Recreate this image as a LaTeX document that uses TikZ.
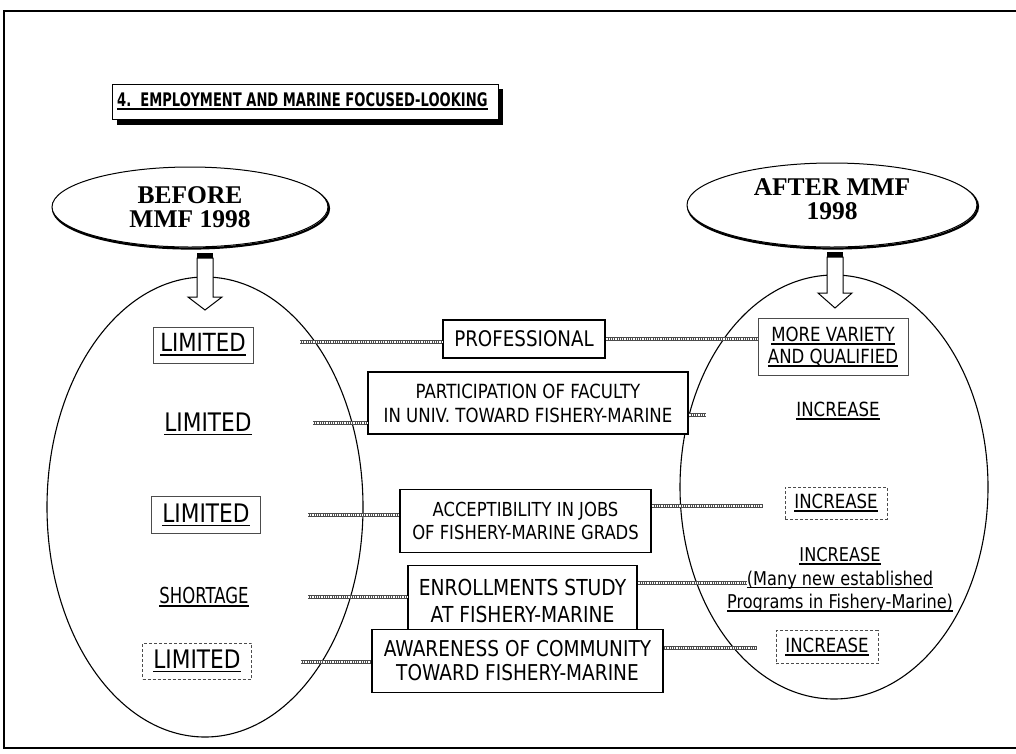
\documentclass[tikz,border=0pt]{standalone}
\usepackage{fontspec}
\setmainfont{DejaVu Sans}[FakeStretch=0.85]
\newfontfamily\narrowsans{DejaVu Sans}[FakeStretch=0.75]
\newfontfamily\headfont{DejaVu Sans Bold}[FakeStretch=0.7]
\newfontfamily\ovalfont{Liberation Serif}
\usetikzlibrary{shapes.geometric}

% underline with a rule a little heavier than \underline
\newcommand{\uln}[1]{\leavevmode\setbox0=\hbox{#1}\rlap{\copy0}\rule[-0.17em]{\wd0}{0.075em}}

\tikzset{
  frame/.style={line width=2.6pt},
  midbox/.style={draw, line width=1.1pt, fill=white, inner sep=0pt, align=center},
  tagbox/.style={draw=black!70, line width=0.7pt, inner sep=0pt, align=center},
  tag/.style={inner sep=0pt, align=center},
  oval/.style={ellipse, draw, line width=1pt, fill=white, inner sep=0pt},
  ovaltext/.style={inner sep=0pt, align=center, font=\ovalfont\bfseries\fontsize{25.5}{24.5}\selectfont},
  bigoval/.style={ellipse, draw, line width=1.1pt, inner sep=0pt},
  rail/.style={draw=black!70, line width=3.4pt,
    postaction={draw=white, line width=1.1pt, dash pattern=on 0.9pt off 0.9pt}},
  blockarrow/.style={draw, line width=1pt, fill=white},
}

\begin{document}
\begin{tikzpicture}[x=1pt, y=-1pt]
\useasboundingbox (0,0) rectangle (1016,753);
\fill[white] (0,0) rectangle (1016,753);

% outer frame
\draw[frame] (4,11) rectangle (1020,748);

% heading with drop shadow
\fill[black] (117,89) rectangle (503,125);
\node[draw, line width=0.8pt, fill=white, minimum width=386pt, minimum height=35pt,
      inner sep=0pt, anchor=north west] (head) at (112,84) {};
\node[tag, font=\headfont\fontsize{18.7}{21}\selectfont, anchor=west]
  (headtext) at (117,101) {\uln{4.\ \ EMPLOYMENT AND MARINE FOCUSED-LOOKING}};

% large ovals holding the two columns
\node[bigoval, minimum width=316pt, minimum height=460pt] (leftoval) at (205,507) {};
\node[bigoval, minimum width=308pt, minimum height=424pt] (rightoval) at (834,487) {};

% period labels, each with a heavier lower-right rim
\draw[line width=2.2pt] (191,208.5) ellipse [x radius=138, y radius=40];
\node[oval, minimum width=276pt, minimum height=80pt] (before) at (190,207) {};
\node[ovaltext] (beforetext) at (before.center) {BEFORE\\MMF 1998};
\draw[line width=2.2pt] (833,206.5) ellipse [x radius=145, y radius=42];
\node[oval, minimum width=290pt, minimum height=84pt] (after) at (832,205) {};
\node[ovaltext] (aftertext) at (832,199) {AFTER MMF\\1998};

% hollow arrows from the labels into the ovals
\draw[blockarrow] (197,258) -- (197,297) -- (188,297) -- (205,310) -- (222,297)
  -- (213,297) -- (213,258) -- cycle;
\fill (197,253) rectangle (213,257.5);
\draw[blockarrow] (827,257) -- (827,293) -- (818,293) -- (835,308) -- (852,293)
  -- (843,293) -- (843,257) -- cycle;
\fill (827,252) rectangle (843,256.5);

% left column
\node[tagbox, minimum width=100pt, minimum height=36pt,
      font=\fontsize{25}{28}\selectfont] (l1) at (203,345) {\uln{LIMITED}};
\node[tag, font=\fontsize{25.5}{28}\selectfont] (l2) at (208,424) {\uln{LIMITED}};
\node[tagbox, minimum width=109pt, minimum height=37pt,
      font=\fontsize{25.5}{28}\selectfont] (l3) at (206,515) {\uln{LIMITED}};
\node[tag, font=\narrowsans\fontsize{22}{26}\selectfont] (l4) at (204,597) {\uln{SHORTAGE}};
\node[tagbox, densely dashed, minimum width=109pt, minimum height=36pt,
      font=\fontsize{25.5}{28}\selectfont] (l5) at (197,661) {\uln{LIMITED}};

% right column
\node[tagbox, minimum width=150pt, minimum height=57pt,
      font=\fontsize{19.5}{22}\selectfont] (r1) at (833,347)
  {\uln{MORE VARIETY}\\\uln{AND QUALIFIED}};
\node[tag, font=\fontsize{19.5}{22}\selectfont] (r2) at (838,411) {\uln{INCREASE}};
\node[tagbox, densely dashed, minimum width=102pt, minimum height=32pt,
      font=\fontsize{19.5}{22}\selectfont] (r3) at (836,503) {\uln{INCREASE}};
\node[tag, font=\fontsize{19}{23.5}\selectfont] (r4) at (840,580)
  {\uln{INCREASE}\\\uln{(Many new established}\\\uln{Programs in Fishery-Marine)}};
\node[tagbox, densely dashed, minimum width=102pt, minimum height=33pt,
      font=\fontsize{19.5}{22}\selectfont] (r5) at (827,647) {\uln{INCREASE}};

% free ends of the connectors
\coordinate (a1) at (300,342);
\coordinate (a2) at (313,423);
\coordinate (b2) at (706,415);
\coordinate (a3) at (308,515);
\coordinate (b3) at (763,506);
\coordinate (a4) at (308,597);
\coordinate (b4) at (747,583);
\coordinate (a5) at (301,662);
\coordinate (b5) at (757,648);

% topics in the middle
\node[midbox, minimum width=162pt, minimum height=38pt,
      font=\fontsize{21.5}{24}\selectfont] (c1) at (524,339) {PROFESSIONAL};
\node[midbox, minimum width=320pt, minimum height=62pt,
      font=\fontsize{19.5}{24}\selectfont] (c2) at (528,403)
  {PARTICIPATION OF FACULTY\\IN UNIV. TOWARD FISHERY-MARINE};
\node[midbox, minimum width=251pt, minimum height=63pt,
      font=\fontsize{19.3}{23}\selectfont] (c3) at (525.5,521)
  {ACCEPTIBILITY IN JOBS\\OF FISHERY-MARINE GRADS};
\node[midbox, minimum width=229pt, minimum height=71pt,
      font=\fontsize{22}{27}\selectfont] (c4) at (522.5,601)
  {ENROLLMENTS STUDY\\AT FISHERY-MARINE};

% connectors
\draw[rail] (a1) -- (a1 -| c1.west);
\draw[rail] (c1.east) -- (c1.east -| r1.west);
\draw[rail] (a2) -- (a2 -| c2.west);
\draw[rail] (b2 -| c2.east) -- (b2);
\draw[rail] (a3) -- (a3 -| c3.west);
\draw[rail] (b3 -| c3.east) -- (b3);
\draw[rail] (a4) -- (a4 -| c4.west);
\draw[rail] (b4 -| c4.east) -- (b4);
\draw[rail] (a5) -- (372,662);
\draw[rail] (663,648) -- (b5);

% last topic overlaps the box above it
\node[midbox, minimum width=291pt, minimum height=63pt,
      font=\fontsize{21.8}{24}\selectfont] (c5) at (517.5,661)
  {AWARENESS OF COMMUNITY\\TOWARD FISHERY-MARINE};
\end{tikzpicture}
\end{document}
